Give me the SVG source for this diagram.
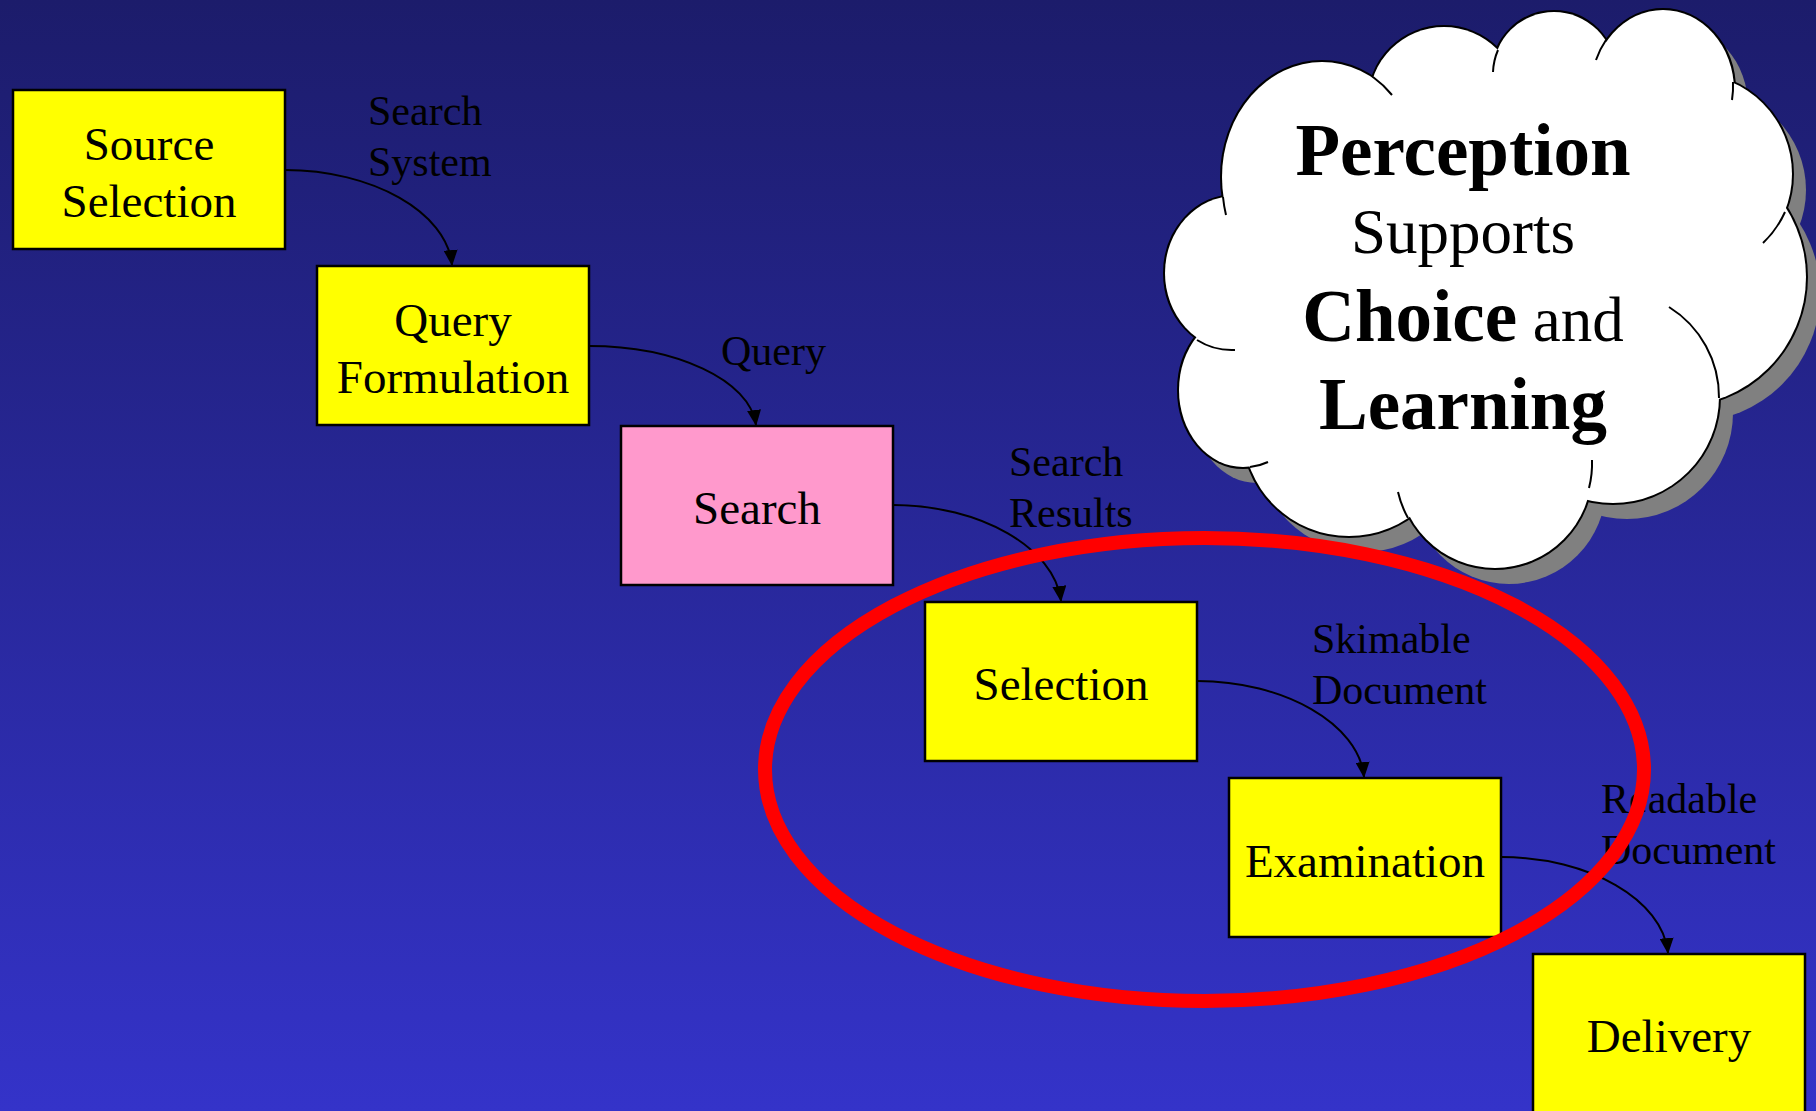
<svg xmlns="http://www.w3.org/2000/svg" width="1816" height="1111" viewBox="0 0 1816 1111">
<defs>
<linearGradient id="bg" x1="0" y1="0" x2="0" y2="1">
<stop offset="0" stop-color="#1c1c6b"/>
<stop offset="1" stop-color="#3433c9"/>
</linearGradient>
<marker id="arr" markerUnits="userSpaceOnUse" markerWidth="16" markerHeight="14" viewBox="0 0 16 14" refX="15" refY="7" orient="auto">
<path d="M0,0 L16,7 L0,14 z" fill="#000"/>
</marker>
<g id="lobes">
<ellipse cx="1322" cy="177" rx="100" ry="115"/>
<circle cx="1444" cy="102" r="75"/>
<circle cx="1554" cy="73" r="61"/>
<ellipse cx="1663" cy="90" rx="71" ry="80"/>
<circle cx="1692" cy="174" r="100"/>
<circle cx="1677" cy="277" r="129"/>
<circle cx="1613" cy="397" r="106"/>
<ellipse cx="1495" cy="470" rx="97" ry="98"/>
<circle cx="1349" cy="430" r="106"/>
<ellipse cx="1243" cy="390" rx="64" ry="77"/>
<ellipse cx="1235" cy="273" rx="70" ry="77"/>
</g>
<polygon id="core" points="1322,177 1444,102 1554,73 1663,90 1692,174 1677,277 1613,397 1495,470 1349,430 1243,390 1235,273"/>
</defs>
<style>
.box{stroke:#000;stroke-width:2.5}
.yellow{fill:#ffff00}
.pink{fill:#ff99cc}
.nt{font-family:"Liberation Serif","Times New Roman",serif;font-size:47px;fill:#000;text-anchor:middle}
.lt{font-family:"Liberation Serif","Times New Roman",serif;font-size:42px;fill:#000}
.edge{fill:none;stroke:#000;stroke-width:2;marker-end:url(#arr)}
.ct{font-family:"Liberation Serif","Times New Roman",serif;fill:#000;text-anchor:middle}
.b{font-weight:bold;font-size:73px}
.r{font-weight:normal;font-size:63px}
</style>
<rect x="0" y="0" width="1816" height="1111" fill="url(#bg)"/>

<g id="source-selection">
<rect class="box yellow" x="13" y="90" width="272" height="159"/>
<text class="nt" x="149" y="160">Source</text>
<text class="nt" x="149" y="217">Selection</text>
</g>
<g id="query-formulation">
<rect class="box yellow" x="317" y="266" width="272" height="159"/>
<text class="nt" x="453" y="336">Query</text>
<text class="nt" x="453" y="393">Formulation</text>
</g>
<g id="search">
<rect class="box pink" x="621" y="426" width="272" height="159"/>
<text class="nt" x="757" y="524">Search</text>
</g>
<g id="selection">
<rect class="box yellow" x="925" y="602" width="272" height="159"/>
<text class="nt" x="1061" y="700">Selection</text>
</g>
<g id="examination">
<rect class="box yellow" x="1229" y="778" width="272" height="159"/>
<text class="nt" x="1365" y="877">Examination</text>
</g>
<g id="delivery">
<rect class="box yellow" x="1533" y="954" width="272" height="159"/>
<text class="nt" x="1669" y="1052">Delivery</text>
</g>

<g id="connectors">
<path class="edge" d="M285,170 C372,170 447,212 452,265"/>
<path class="edge" d="M589,346 C676,346 750,380 756,425"/>
<path class="edge" d="M893,505 C980,505 1055,548 1061,601"/>
<path class="edge" d="M1197,681 C1284,681 1359,724 1364,777"/>
<path class="edge" d="M1501,857 C1589,857 1663,900 1668,953"/>
<text class="lt" x="368" y="125">Search</text>
<text class="lt" x="368" y="176">System</text>
<text class="lt" x="721" y="365">Query</text>
<text class="lt" x="1009" y="476">Search</text>
<text class="lt" x="1009" y="527">Results</text>
<text class="lt" x="1312" y="653">Skimable</text>
<text class="lt" x="1312" y="704">Document</text>
<text class="lt" x="1601" y="813">Readable</text>
<text class="lt" x="1601" y="864">Document</text>
</g>

<g id="cloud">
<g transform="translate(14,16)" fill="#808080">
<use href="#lobes"/>
<use href="#core"/>
</g>
<use href="#lobes" fill="#fff" stroke="#000" stroke-width="4"/>
<use href="#lobes" fill="#fff"/>
<use href="#core" fill="#fff"/>
<g fill="none" stroke="#000" stroke-width="2">
<path d="M1373,77 A100,115 0 0 1 1392,95"/>
<path d="M1498,50 A61,61 0 0 0 1493,72"/>
<path d="M1606,40 A71,80 0 0 0 1596,60"/>
<path d="M1733,82 A71,80 0 0 1 1732,100"/>
<path d="M1785,212 A100,100 0 0 1 1763,243"/>
<path d="M1719,398 A106,106 0 0 0 1669,307"/>
<path d="M1589,488 A97,98 0 0 0 1592,460"/>
<path d="M1408,518 A97,98 0 0 1 1398,492"/>
<path d="M1250,467 A64,77 0 0 0 1268,462"/>
<path d="M1197,340 A70,77 0 0 0 1235,350"/>
<path d="M1223,197 A100,115 0 0 0 1226,215"/>
</g>
<text class="ct b" x="1463" y="175">Perception</text>
<text class="ct r" x="1463" y="253">Supports</text>
<text class="ct" x="1463" y="341"><tspan class="b">Choice</tspan><tspan class="r"> and</tspan></text>
<text class="ct b" x="1463" y="429">Learning</text>
</g>

<g id="focus-ellipse">
<ellipse cx="1204.5" cy="769.5" rx="439.5" ry="231.5" fill="none" stroke="#ff0000" stroke-width="14"/>
</g>
</svg>
